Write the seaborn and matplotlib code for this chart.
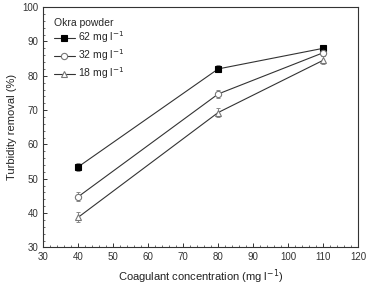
import pandas as pd
import seaborn as sns
import matplotlib.pyplot as plt
from matplotlib.ticker import MultipleLocator

# Coagulant concentration (mg/l) and turbidity removal (%) per okra powder dose
concentration = [40, 80, 110]
doses = ['62', '32', '18']
removal_62 = [53.5, 82.0, 88.0]
removal_32 = [44.8, 74.7, 86.7]
removal_18 = [38.8, 69.3, 84.5]
error_62 = [1.2, 1.0, 1.0]
error_32 = [1.3, 1.2, 1.0]
error_18 = [1.5, 1.3, 1.2]

df = pd.DataFrame({
    'conc': concentration * 3,
    'removal': removal_62 + removal_32 + removal_18,
    'err': error_62 + error_32 + error_18,
    'dose': [d for d in doses for _ in concentration],
})

sns.set_style('white')
plt.rcParams['font.family'] = ['Liberation Sans', 'DejaVu Sans']

fig, ax = plt.subplots(figsize=(3.71, 2.86), dpi=100)

markers = {'62': 's', '32': 'o', '18': '^'}
faces = {'62': 'black', '32': 'white', '18': 'white'}
edges = {'62': 'black', '32': '#777777', '18': '#777777'}

for d in doses:
    sub = df[df['dose'] == d]
    ax.errorbar(sub['conc'], sub['removal'], yerr=sub['err'], fmt='none',
                ecolor='#888888', elinewidth=0.7, capsize=1.5, capthick=0.7, zorder=2)
    sns.lineplot(data=sub, x='conc', y='removal', ax=ax, color='#333333',
                 linewidth=0.8, marker=markers[d], markersize=4.5,
                 markerfacecolor=faces[d], markeredgecolor=edges[d],
                 markeredgewidth=0.8, label=f'{d} mg l$^{{-1}}$', zorder=3)

ax.set_xlim(30, 120)
ax.set_ylim(30, 100)
ax.xaxis.set_major_locator(MultipleLocator(10))
ax.xaxis.set_minor_locator(MultipleLocator(2))
ax.yaxis.set_major_locator(MultipleLocator(10))
ax.yaxis.set_minor_locator(MultipleLocator(2))
ax.tick_params(axis='both', which='both', direction='in', labelsize=7,
               bottom=True, left=True, colors='#333333')
ax.tick_params(which='major', length=3, width=0.7)
ax.tick_params(which='minor', length=1.5, width=0.5)
for s in ax.spines.values():
    s.set_color('#333333')
    s.set_linewidth(0.8)

ax.set_xlabel('Coagulant concentration (mg l$^{-1}$)', fontsize=8, color='#222222')
ax.set_ylabel('Turbidity removal (%)', fontsize=8, color='#222222')

leg = ax.legend(title='Okra powder', loc='upper left', frameon=False, fontsize=7.5,
                title_fontsize=7.5, handlelength=2.0, handletextpad=0.3,
                labelspacing=0.2, borderaxespad=0.6)
leg._legend_box.align = 'left'

fig.subplots_adjust(left=0.117, right=0.965, top=0.975, bottom=0.135)
fig.savefig('out.png', dpi=100)
